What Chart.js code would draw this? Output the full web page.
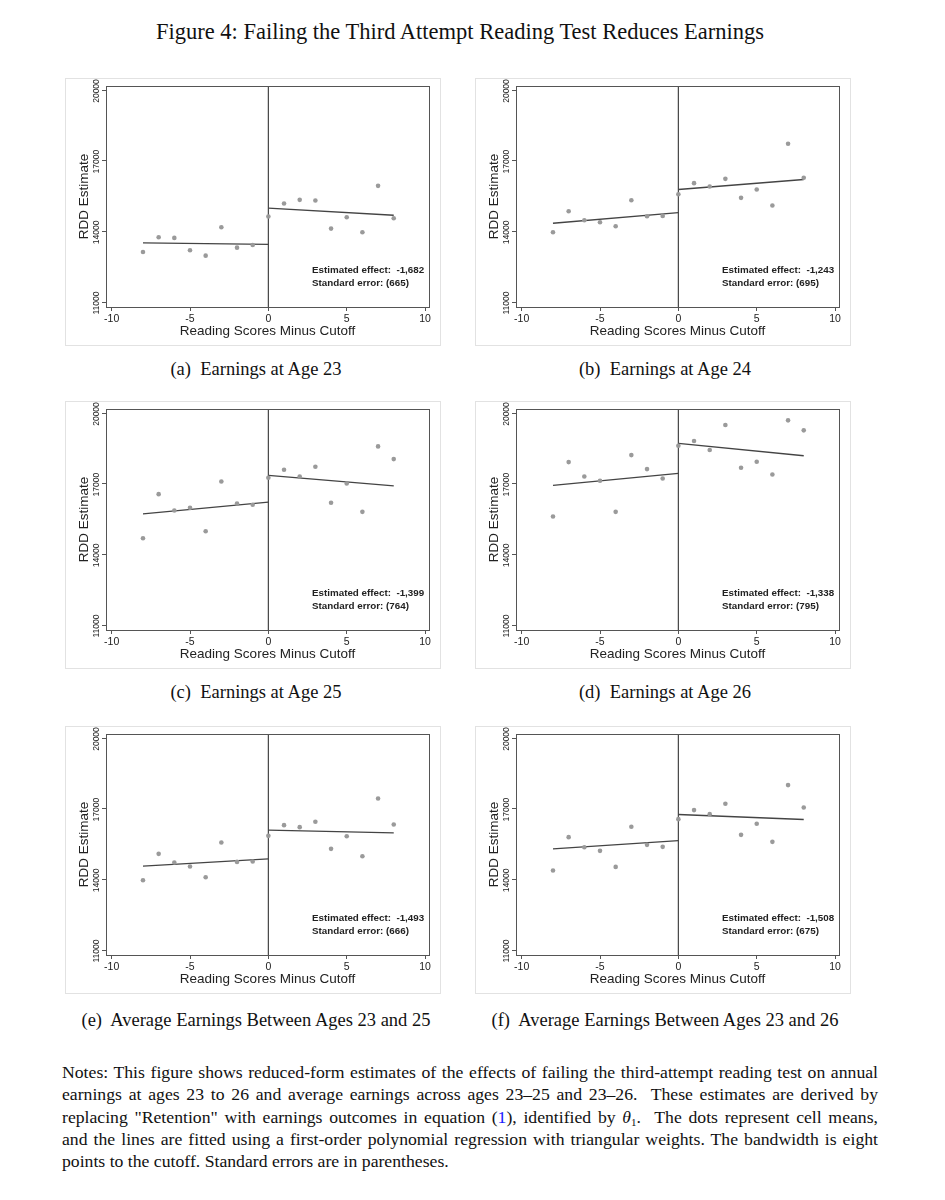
<!DOCTYPE html>
<html>
<head>
<meta charset="utf-8">
<script src="https://cdn.jsdelivr.net/npm/chart.js@4.4.0/dist/chart.umd.min.js"></script>
<style>
  body { margin: 0; background: #fff; font-family: "Liberation Serif", "Times New Roman", serif; color: #111; }
  #page { position: relative; width: 945px; height: 1200px; }
  h1 { position: absolute; top: 19px; left: 0; width: 920px; margin: 0; text-align: center; font-weight: normal; font-size: 22.5px; line-height: 26px; }
  .panel { position: absolute; width: 376px; height: 268px; border: 1px solid #e2e2e2; box-sizing: border-box; }
  .panel canvas { display: block; }
  .caption { position: absolute; width: 410px; text-align: center; font-size: 18.5px; line-height: 22px; }
  #notes { position: absolute; left: 62px; top: 1061px; width: 816px; font-size: 17.7px; line-height: 22.3px; }
  #notes span.ln { display: block; height: 22.3px; text-align: justify; text-align-last: justify; white-space: nowrap; }
  #notes span.last { text-align-last: left; }
  #notes sub { font-size: 11px; line-height: 0; vertical-align: -3px; }
  .ref { color: #1a1aff; }
</style>
</head>
<body>
<div id="page">
  <h1>Figure 4: Failing the Third Attempt Reading Test Reduces Earnings</h1>

  <div class="panel" style="left:65px;top:78px"><canvas id="c23" width="374" height="266"></canvas></div>
  <div class="panel" style="left:475px;top:78px"><canvas id="c24" width="374" height="266"></canvas></div>
  <div class="panel" style="left:65px;top:401px"><canvas id="c25" width="374" height="266"></canvas></div>
  <div class="panel" style="left:475px;top:401px"><canvas id="c26" width="374" height="266"></canvas></div>
  <div class="panel" style="left:65px;top:726px"><canvas id="c2325" width="374" height="266"></canvas></div>
  <div class="panel" style="left:475px;top:726px"><canvas id="c2326" width="374" height="266"></canvas></div>

  <div class="caption" style="left:51px;top:358px">(a)&nbsp; Earnings at Age 23</div>
  <div class="caption" style="left:460px;top:358px">(b)&nbsp; Earnings at Age 24</div>
  <div class="caption" style="left:51px;top:681px">(c)&nbsp; Earnings at Age 25</div>
  <div class="caption" style="left:460px;top:681px">(d)&nbsp; Earnings at Age 26</div>
  <div class="caption" style="left:51px;top:1009px">(e)&nbsp; Average Earnings Between Ages 23 and 25</div>
  <div class="caption" style="left:460px;top:1009px">(f)&nbsp; Average Earnings Between Ages 23 and 26</div>

  <div id="notes">
    <span class="ln">Notes: This figure shows reduced-form estimates of the effects of failing the third-attempt reading test on annual</span>
    <span class="ln">earnings at ages 23 to 26 and average earnings across ages 23–25 and 23–26.&nbsp; These estimates are derived by</span>
    <span class="ln">replacing "Retention" with earnings outcomes in equation (<span class="ref">1</span>), identified by <i>θ</i><sub>1</sub>.&nbsp; The dots represent cell means,</span>
    <span class="ln">and the lines are fitted using a first-order polynomial regression with triangular weights. The bandwidth is eight</span>
    <span class="ln last">points to the cutoff. Standard errors are in parentheses.</span>
  </div>
</div>

<script>
// reading score minus cutoff (cell bins)
const scoreBins = [-8, -7, -6, -5, -4, -3, -2, -1, 0, 1, 2, 3, 4, 5, 6, 7, 8];

// cell means
const earnAge23 = [13126, 13750, 13722, 13197, 12970, 14175, 13310, 13424, 14629, 15181, 15337, 15309, 14118, 14600, 13962, 15933, 14558];
const earnAge24 = [13963, 14856, 14473, 14388, 14218, 15323, 14643, 14657, 15578, 16046, 15904, 16230, 15422, 15777, 15096, 17718, 16273];
const earnAge25 = [14685, 16556, 15862, 15975, 14983, 17095, 16159, 16103, 17251, 17591, 17307, 17718, 16188, 17010, 15805, 18583, 18044];
const earnAge26 = [15607, 17917, 17307, 17123, 15805, 18214, 17619, 17222, 18611, 18810, 18427, 19490, 17676, 17931, 17392, 19688, 19263];
const earnAvg2325 = [13963, 15083, 14714, 14544, 14090, 15564, 14742, 14756, 15847, 16301, 16216, 16443, 15295, 15833, 14983, 17435, 16329];
const earnAvg2326 = [14374, 15791, 15366, 15210, 14530, 16231, 15465, 15380, 16556, 16939, 16769, 17208, 15890, 16358, 15593, 18002, 17052];

// fitted lines: left side at x = -8 and 0, right side at x = 0 and 8
const fitLeftX = [-8, 0];
const fitRightX = [0, 8];
const fit23Left = [13509, 13452], fit23Right = [14983, 14685];
const fit24Left = [14345, 14799], fit24Right = [15777, 16202];
const fit25Left = [15720, 16216], fit25Right = [17350, 16910];
const fit26Left = [16925, 17435], fit26Right = [18710, 18186];
const fit2325Left = [14558, 14870], fit2325Right = [16088, 15975];
const fit2326Left = [15296, 15648], fit2326Right = [16754, 16542];

// estimates shown in the corner
const effects = ['-1,682', '-1,243', '-1,399', '-1,338', '-1,493', '-1,508'];
const stdErrors = ['665', '695', '764', '795', '666', '675'];

// axes
const xTicks = [-10, -5, 0, 5, 10];
const yTicks = [11000, 14000, 17000, 20000];
const xRange = [-10.36, 10.25];
const yRange = [10790, 20170];

const panels = [
    { id: 'c23', values: earnAge23, left: fit23Left, right: fit23Right },
    { id: 'c24', values: earnAge24, left: fit24Left, right: fit24Right },
    { id: 'c25', values: earnAge25, left: fit25Left, right: fit25Right },
    { id: 'c26', values: earnAge26, left: fit26Left, right: fit26Right },
    { id: 'c2325', values: earnAvg2325, left: fit2325Left, right: fit2325Right },
    { id: 'c2326', values: earnAvg2326, left: fit2326Left, right: fit2326Right }
];

const SANS = '"Liberation Sans", Arial, Helvetica, sans-serif';
const INK = '#222';

// box around plot, rotated y labels, estimate text
const framePlugin = {
    id: 'frame',
    afterDatasetsDraw(chart, args, opts) {
        const { ctx, chartArea: a, scales: { y } } = chart;
        ctx.save();
        ctx.strokeStyle = '#555';
        ctx.lineWidth = 1;
        ctx.strokeRect(Math.round(a.left) + 0.5, Math.round(a.top) + 0.5,
            Math.round(a.right - a.left), Math.round(a.bottom - a.top));

        ctx.fillStyle = INK;
        ctx.font = '8.5px ' + SANS;
        ctx.textAlign = 'center';
        ctx.textBaseline = 'middle';
        yTicks.forEach(v => {
            ctx.save();
            ctx.translate(a.left - 9, y.getPixelForValue(v) + 1);
            ctx.rotate(-Math.PI / 2);
            ctx.fillText(String(v), 0, 0);
            ctx.restore();
        });

        ctx.font = 'bold 9.8px ' + SANS;
        ctx.textAlign = 'left';
        ctx.fillText('Estimated effect:  ' + opts.effect, a.left + 206, a.bottom - 37);
        ctx.fillText('Standard error: (' + opts.se + ')', a.left + 206, a.bottom - 24);
        ctx.restore();
    }
};

function lineSet(xs, ys) {
    return {
        type: 'line',
        data: xs.map((x, i) => ({ x, y: ys[i] })),
        borderColor: '#444',
        borderWidth: 1.3,
        pointRadius: 0,
        showLine: true
    };
}

panels.forEach((p, k) => {
    const ctx = document.getElementById(p.id).getContext('2d');
    new Chart(ctx, {
        type: 'scatter',
        data: {
            datasets: [
                {
                    data: scoreBins.map((x, i) => ({ x, y: p.values[i] })),
                    backgroundColor: '#9a9a9a',
                    borderWidth: 0,
                    pointRadius: 2.3
                },
                lineSet(fitLeftX, p.left),
                lineSet(fitRightX, p.right),
                // cutoff line
                {
                    type: 'line',
                    data: [{ x: 0, y: yRange[0] }, { x: 0, y: yRange[1] }],
                    borderColor: '#444',
                    borderWidth: 1.2,
                    pointRadius: 0,
                    showLine: true
                }
            ]
        },
        options: {
            responsive: false,
            animation: false,
            layout: { padding: { left: 0, right: 11, top: 7, bottom: 6 } },
            plugins: {
                legend: { display: false },
                tooltip: { enabled: false },
                frame: { effect: effects[k], se: stdErrors[k] }
            },
            scales: {
                x: {
                    type: 'linear',
                    min: xRange[0],
                    max: xRange[1],
                    afterBuildTicks: s => { s.ticks = xTicks.map(v => ({ value: v })); },
                    afterFit: s => { s.height = 32; },
                    ticks: { color: INK, font: { family: SANS, size: 10.5 }, padding: 2, maxRotation: 0 },
                    grid: { drawOnChartArea: false, tickLength: 4, color: '#555' },
                    border: { display: false },
                    title: { display: true, text: 'Reading Scores Minus Cutoff', color: INK, font: { family: SANS, size: 13.5 }, padding: { top: 0, bottom: 0 } }
                },
                y: {
                    type: 'linear',
                    min: yRange[0],
                    max: yRange[1],
                    afterBuildTicks: s => { s.ticks = yTicks.map(v => ({ value: v })); },
                    afterFit: s => { s.width = 40; },
                    ticks: { display: false },
                    grid: { drawOnChartArea: false, tickLength: 4, color: '#555' },
                    border: { display: false },
                    title: { display: true, text: 'RDD Estimate', color: INK, font: { family: SANS, size: 13.5 }, padding: { top: 10, bottom: 0 } }
                }
            }
        },
        plugins: [framePlugin]
    });
});
</script>
</body>
</html>
